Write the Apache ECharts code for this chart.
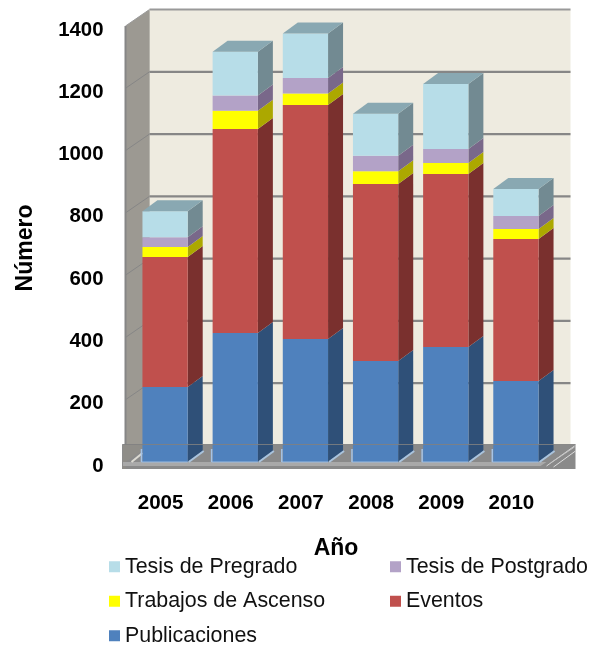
<!DOCTYPE html>
<html>
<head>
<meta charset="utf-8">
<style>html,body{margin:0;padding:0;background:#fff}#c{width:592px;height:648px}</style>
<script src="https://cdn.jsdelivr.net/npm/echarts@6/dist/echarts.min.js"></script>
</head>
<body>
<div id="c"></div>
<script>
const years = ['2005','2006','2007','2008','2009','2010'];
const valueTicks = [0,200,400,600,800,1000,1200,1400];
const publicaciones = [241,414,395,324,369,260];
const eventos = [417,655,751,569,556,456];
const trabajos = [32,59,37,41,35,32];
const postgrado = [32,49,50,49,45,42];
const pregrado = [83,140,143,135,209,87];

const FONT = '"Liberation Sans", Arial, sans-serif';
// projection constants
const PLANE_DY = -4;
const WALL_DX = 24, WALL_DY = -16.5;
const BAR_DX = 15, BAR_DY = -11, BAR_SHIFT = 4.5, BAR_RATIO = 0.645;

function poly(points, fill, extra) {
  return Object.assign({type:'polygon', shape:{points}, style:{fill, stroke:null}, silent:true}, extra||{});
}
function line(x1,y1,x2,y2,stroke,w) {
  return {type:'line', shape:{x1,y1,x2,y2}, style:{stroke, lineWidth:w, fill:null}, silent:true};
}

function renderWalls(params, api) {
  const cs = params.coordSys;
  const y = api.coord([0, api.value(0)])[1] + PLANE_DY;
  const left = cs.x, right = cs.x + cs.width, top = cs.y + PLANE_DY, bottom = cs.y + cs.height + PLANE_DY;
  const kids = [];
  if (params.dataIndex === 0) {
    kids.push(poly([[left+WALL_DX,top+WALL_DY],[right+WALL_DX,top+WALL_DY],[right+WALL_DX,bottom+WALL_DY],[left+WALL_DX,bottom+WALL_DY]],'#eeebe0'));
    kids.push(poly([[left,top],[left+WALL_DX,top+WALL_DY],[left+WALL_DX,bottom+WALL_DY],[left,bottom]],'#9c9992'));
    kids.push(line(left,top,left,bottom,'#868686',2));
    kids.push(line(left,top,left+WALL_DX,top+WALL_DY,'#9a9a9a',1));
    kids.push(line(left+WALL_DX,top+WALL_DY,right+WALL_DX,top+WALL_DY,'#999999',2));
    kids.push(line(left+WALL_DX,top+WALL_DY,left+WALL_DX,bottom+WALL_DY,'#b8b6ae',1));
  }
  if (api.value(0) > 0 && api.value(0) < valueTicks[valueTicks.length-1]) {
    kids.push(line(left,y,left+WALL_DX,y+WALL_DY,'#868686',1));
    kids.push(line(left+WALL_DX,y+WALL_DY,right+WALL_DX,y+WALL_DY,'#868686',2.2));
  }
  return {type:'group', children:kids};
}

function renderFloor(params, api) {
  const cs = params.coordSys;
  const left = cs.x, right = cs.x + cs.width, bottom = cs.y + cs.height + PLANE_DY;
  const x0 = left - 3, x1 = right + 29, yT = bottom + WALL_DY - 1, yB = bottom + 7;
  const kids = [
    poly([[x0,yT],[x1,yT],[x1,yB],[x0,yB]],'#8a8a8a'),
    poly([[left,bottom],[left+WALL_DX,bottom+WALL_DY],[x0+3,yT],[x0,yT],[x0,yB],[left,yB]],'#8f8d88'),
    poly([[x0,bottom],[right,bottom],[right-6,bottom+4],[x0,bottom+4]],'#a9a9a9'),
    line(x0,yT,x0,yB,'#8c8c8c',1),
    line(left+6,bottom,left+17,bottom-9,'#dcdad2',2),
    line(right,bottom+4,right+28,bottom-16,'#d7d7d7',1),
    line(right+4,bottom+1,right+28,bottom-15,'#c4c4c4',1),
    line(right+7,bottom+5,right+29,bottom-11,'#dcdcdc',1)
  ];
  return {type:'group', children:kids};
}

function renderFloorLine(params, api) {
  const cs = params.coordSys;
  const bottom = cs.y + cs.height + PLANE_DY;
  return line(cs.x-3, bottom+WALL_DY-1, cs.x+cs.width+29, bottom+WALL_DY-1, 'rgba(128,128,128,0.85)', 1);
}

function barRenderer(front, side, topColor, baseline) {
  return function (params, api) {
    const cat = api.value(0);
    const p0 = api.coord([cat, api.value(1)]);
    const p1 = api.coord([cat, api.value(2)]);
    const w = api.size([1,0])[0] * BAR_RATIO;
    const xL = p0[0] - w/2 + BAR_SHIFT, xR = xL + w;
    const yB = p0[1] + PLANE_DY, yT = p1[1] + PLANE_DY;
    const kids = [
      poly([[xR,yB],[xR+BAR_DX,yB+BAR_DY],[xR+BAR_DX,yT+BAR_DY],[xR,yT]], side),
      {type:'rect', shape:{x:xL,y:yT,width:w,height:yB-yT}, style:{fill:front}, silent:true}
    ];
    if (topColor) {
      kids.push(poly([[xL,yT],[xL+BAR_DX,yT+BAR_DY],[xR+BAR_DX,yT+BAR_DY],[xR,yT]], topColor));
    }
    if (baseline) {
      kids.push(line(xL-1,yB-13,xL-1,yB,'#a5c3e6',1.5));
      kids.push(line(xL-1,yB,xR,yB,'#9dbce0',1));
      kids.push(line(xR+1,yB,xR+BAR_DX+1,yB+BAR_DY,'#a9c3dd',2));
    }
    return {type:'group', children:kids};
  };
}

const layers = [
  {name:'Publicaciones', values:publicaciones, front:'#4f81bd', side:'#2f5078'},
  {name:'Eventos', values:eventos, front:'#c0504d', side:'#7a302e'},
  {name:'Trabajos de Ascenso', values:trabajos, front:'#ffff00', side:'#aca800'},
  {name:'Tesis de Postgrado', values:postgrado, front:'#b3a2c7', side:'#79688a'},
  {name:'Tesis de Pregrado', values:pregrado, front:'#b7dde8', side:'#728a92', top:'#89a8b2'}
];

const running = years.map(() => 0);
const barSeries = layers.map((l, k) => {
  const data = l.values.map((v, i) => {
    const row = [i, running[i], running[i] + v];
    running[i] += v;
    return row;
  });
  return {
    name: l.name,
    type: 'custom',
    coordinateSystem: 'cartesian2d',
    z: 5 + k,
    clip: false,
    silent: true,
    itemStyle: {color: l.front},
    encode: {x: 0, y: [1, 2]},
    renderItem: barRenderer(l.front, l.side, l.top, k === 0),
    data
  };
});

const legendText = {fontFamily: FONT, fontSize: 21.4, color: '#111111', lineHeight: 23.5};
const legendBase = {orient:'vertical', top:555, height:93, padding:0, itemWidth:11, itemHeight:11, itemGap:11,
  itemStyle:{borderWidth:0}, selectedMode:false, icon:'rect', textStyle:legendText};
const option = {
  animation: false,
  backgroundColor: '#ffffff',
  grid: {left: 125.5, width: 421, top: 30, height: 436, containLabel: false},
  xAxis: {
    type: 'category',
    data: years,
    name: 'Año',
    nameLocation: 'middle',
    nameGap: 71,
    nameTextStyle: {fontFamily: FONT, fontSize: 23, fontWeight: 'bold', color: '#000'},
    axisLine: {show: false},
    axisTick: {show: false},
    axisLabel: {margin: 27, fontFamily: FONT, fontSize: 20.6, fontWeight: 'bold', color: '#000'}
  },
  yAxis: {
    type: 'value',
    min: 0,
    max: 1400,
    interval: 200,
    name: 'Número',
    nameLocation: 'middle',
    nameGap: 88,
    nameRotate: 90,
    nameTextStyle: {fontFamily: FONT, fontSize: 23, fontWeight: 'bold', color: '#000'},
    axisLine: {show: false},
    axisTick: {show: false},
    splitLine: {show: false},
    axisLabel: {margin: 22, fontFamily: FONT, fontSize: 20.4, fontWeight: 'bold', color: '#000',
      formatter: v => String(v)}
  },
  legend: [
    Object.assign({left:109, data:['Tesis de Pregrado','Trabajos de Ascenso','Publicaciones']}, legendBase),
    Object.assign({left:390, data:['Tesis de Postgrado','Eventos']}, legendBase)
  ],
  tooltip: {show: false},
  series: [
    {name:'__walls', type:'custom', coordinateSystem:'cartesian2d', z:1, clip:false, silent:true,
     encode:{y:0}, renderItem: renderWalls, data: valueTicks.map(v => [v])},
    {name:'__floor', type:'custom', coordinateSystem:'cartesian2d', z:2, clip:false, silent:true,
     encode:{y:0}, renderItem: renderFloor, data: [[0]]},
    ...barSeries,
    {name:'__floorLine', type:'custom', coordinateSystem:'cartesian2d', z:20, clip:false, silent:true,
     encode:{y:0}, renderItem: renderFloorLine, data: [[0]]}
  ]
};
const chart = echarts.init(document.getElementById('c'), null, {renderer:'canvas'});
chart.setOption(option);
</script>
</body>
</html>
